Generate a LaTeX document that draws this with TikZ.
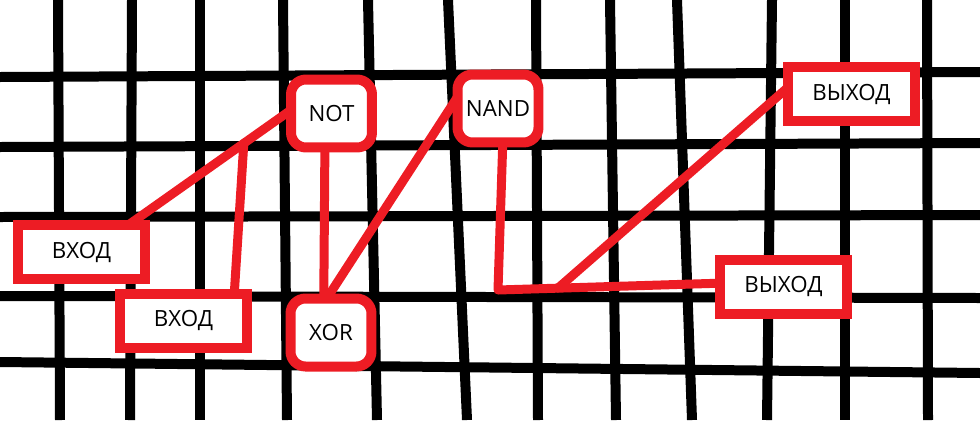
\documentclass[tikz,border=0pt]{standalone}
\usepackage{fontspec}
\setmainfont{Open Sans}
\usepackage{xcolor}
\usepackage{tikz}
\usetikzlibrary{positioning,backgrounds}
\definecolor{paintred}{HTML}{ED1C24}

\begin{document}
\begin{tikzpicture}[
    x=0.02cm, y=-0.02cm,
    gline/.style={line width=0.2cm, black},
    io/.style={draw=paintred, line width=0.2cm, fill=white, minimum width=2.54cm, minimum height=1.08cm, inner sep=0pt, outer sep=0pt, font=\fontsize{12.7}{15}\selectfont},
    gate/.style={io, rounded corners=0.3cm, minimum width=1.62cm, minimum height=1.36cm},
    wire/.style={draw=paintred, line width=0.18cm, line cap=round, line join=round},
]
\useasboundingbox (0,0) rectangle (980,420);

% Inputs
\node[io] (in1) at (81.5,252) {ВХОД};
\node[io] (in2) at (183.5,320.5) {ВХОД};

% Gates
\node[gate] (not) at (331.5,113.5) {NOT};
\node[gate] (xor) at (331,332.5) {XOR};
\node[gate] (nand) at (498,108.5) {NAND};

% Outputs
\node[io] (out1) at (851.5,94) {ВЫХОД};
\node[io] (out2) at (783.5,286.5) {ВЫХОД};

\begin{scope}[on background layer]
% Grid
\foreach \xa/\xb in {58/60, 132/130, 200/200, 283/287, 368/377, 448/467, 536/538, 610/616, 677/692, 772/767, 845/845, 927/928}
    \draw[gline] (\xa,0) -- (\xb,420);
\foreach \ya/\yb in {77/72, 147/143, 217/215, 296/298, 362/373}
    \draw[gline] (0,\ya) -- (980,\yb);

% Wires
\path (in1.30) -- coordinate[pos=0.71] (j1) (not.175);
\draw[wire] (in1.30) -- (not.175);
\draw[wire] (j1) -- (in2.28);
\draw[wire] (not.259) -- (xor.102);
\draw[wire] (xor.97) -- (nand.164);
\coordinate (j2) at (498,290);
\path (j2) -- coordinate[pos=0.27] (j3) (out2.177);
\draw[wire] (nand.278) -- (j2) -- (out2.177);
\draw[wire] (j3) -- (out1.174);
\end{scope}

\end{tikzpicture}
\end{document}
